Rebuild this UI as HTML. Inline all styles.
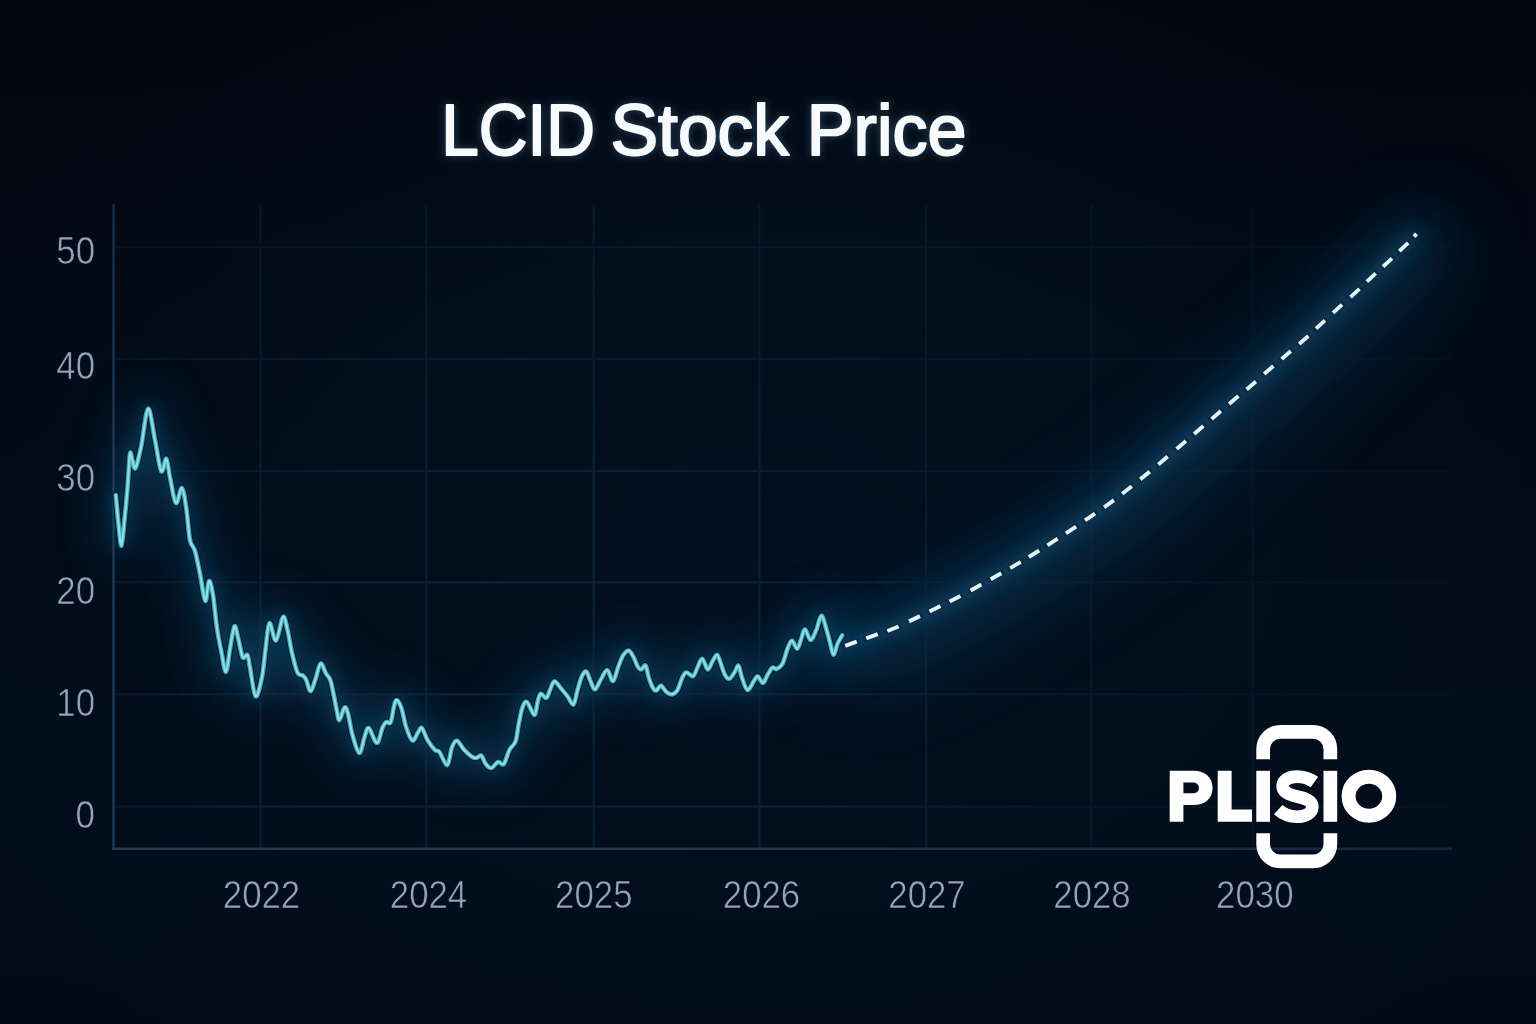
<!DOCTYPE html>
<html><head><meta charset="utf-8"><title>LCID Stock Price</title>
<style>
html,body{margin:0;padding:0;background:#020813;}
body{width:1536px;height:1024px;overflow:hidden;position:relative;font-family:"Liberation Sans",sans-serif;}
#bg{position:absolute;left:0;top:0;width:1536px;height:1024px;
background:
radial-gradient(ellipse 920px 640px at 760px 560px, #03101f 0%, #030e1c 45%, rgba(2,10,22,0) 100%),
linear-gradient(180deg,#02060f 0%,#020914 30%,#020c1b 75%,#020b19 100%);}
svg{position:absolute;left:0;top:0;}
.lab text{font-family:"Liberation Sans",sans-serif;font-size:38.5px;fill:#90a6bb;stroke:#020b19;stroke-width:0.6px;}
.title{font-family:"Liberation Sans",sans-serif;font-size:71.5px;fill:#f7fbfd;stroke:#f7fbfd;stroke-width:2px;stroke-linejoin:round;}
</style></head>
<body>
<div id="bg"></div>
<svg width="1536" height="1024" viewBox="0 0 1536 1024">
<defs>
<filter id="b30" x="-20%" y="-20%" width="140%" height="140%"><feGaussianBlur stdDeviation="22"/></filter>
<filter id="b12" x="-20%" y="-20%" width="140%" height="140%"><feGaussianBlur stdDeviation="9"/></filter>
<filter id="b40" x="-30%" y="-30%" width="160%" height="160%"><feGaussianBlur stdDeviation="38"/></filter>
<filter id="b4" x="-20%" y="-20%" width="140%" height="140%"><feGaussianBlur stdDeviation="4.5"/></filter>
<filter id="b2" x="-20%" y="-20%" width="140%" height="140%"><feGaussianBlur stdDeviation="2"/></filter>
<filter id="tg" x="-20%" y="-50%" width="140%" height="200%"><feGaussianBlur stdDeviation="5"/></filter>
<radialGradient id="gm" gradientUnits="userSpaceOnUse" cx="540" cy="740" r="940">
<stop offset="0" stop-color="#fff" stop-opacity="1"/><stop offset="0.3" stop-color="#fff" stop-opacity="0.95"/>
<stop offset="0.55" stop-color="#fff" stop-opacity="0.6"/><stop offset="0.8" stop-color="#fff" stop-opacity="0.42"/><stop offset="1" stop-color="#fff" stop-opacity="0.22"/></radialGradient>
<mask id="gmask" maskUnits="userSpaceOnUse" x="0" y="0" width="1536" height="1024"><rect x="0" y="0" width="1536" height="1024" fill="url(#gm)"/></mask>
<linearGradient id="xg" gradientUnits="userSpaceOnUse" x1="113" y1="0" x2="1452" y2="0"><stop offset="0" stop-color="#213c57"/><stop offset="0.55" stop-color="#1c3650"/><stop offset="1" stop-color="#13263a"/></linearGradient>
<linearGradient id="yg" gradientUnits="userSpaceOnUse" x1="0" y1="204" x2="0" y2="850"><stop offset="0" stop-color="#182f47"/><stop offset="0.4" stop-color="#213c57"/><stop offset="1" stop-color="#213c57"/></linearGradient>
</defs>
<!-- wide ambient glow -->
<g fill="none" stroke-linecap="round" stroke-linejoin="round">
<path d="M115.80 495.00 C116.27 500.00 117.65 516.57 118.60 525.00 C119.55 533.43 120.52 546.43 121.50 545.60 C122.48 544.77 123.50 529.60 124.50 520.00 C125.50 510.40 126.58 499.04 127.50 488.00 C128.42 476.96 129.15 458.25 130.00 453.75 C130.85 449.25 131.67 458.62 132.60 461.00 C133.53 463.38 134.16 470.50 135.60 468.00 C137.04 465.50 139.17 455.88 141.25 446.00 C143.33 436.12 145.81 409.75 148.10 408.75 C150.39 407.75 152.81 429.58 155.00 440.00 C157.19 450.42 159.38 468.12 161.25 471.25 C163.12 474.38 164.79 457.71 166.25 458.75 C167.71 459.79 168.39 470.12 170.00 477.50 C171.61 484.88 173.92 501.25 175.90 503.00 C177.88 504.75 180.18 487.17 181.90 488.00 C183.62 488.83 184.90 499.33 186.25 508.00 C187.60 516.67 188.54 532.83 190.00 540.00 C191.46 547.17 193.33 545.38 195.00 551.00 C196.67 556.62 198.28 565.42 200.00 573.75 C201.72 582.08 203.80 599.79 205.30 601.00 C206.80 602.21 207.72 582.00 209.00 581.00 C210.28 580.00 211.68 587.25 213.00 595.00 C214.32 602.75 215.53 618.12 216.90 627.50 C218.28 636.88 219.73 643.85 221.25 651.25 C222.77 658.65 224.54 672.32 226.00 671.90 C227.46 671.48 228.60 656.36 230.00 648.75 C231.40 641.14 233.07 628.12 234.40 626.25 C235.73 624.38 236.75 632.71 238.00 637.50 C239.25 642.29 240.94 651.58 241.90 655.00 C242.86 658.42 242.82 658.00 243.75 658.00 C244.68 658.00 246.46 653.42 247.50 655.00 C248.54 656.58 248.65 660.62 250.00 667.50 C251.35 674.38 253.62 694.58 255.60 696.25 C257.58 697.92 260.23 685.42 261.90 677.50 C263.57 669.58 264.35 657.83 265.60 648.75 C266.85 639.67 267.67 624.36 269.40 623.00 C271.13 621.64 273.73 641.60 276.00 640.60 C278.27 639.60 281.08 618.77 283.00 617.00 C284.92 615.23 286.02 624.08 287.50 630.00 C288.98 635.92 290.23 645.42 291.90 652.50 C293.57 659.58 295.65 668.65 297.50 672.50 C299.35 676.35 301.54 674.35 303.00 675.60 C304.46 676.85 304.98 677.39 306.25 680.00 C307.52 682.61 309.04 691.46 310.60 691.25 C312.16 691.04 313.93 683.38 315.60 678.75 C317.27 674.12 318.87 664.38 320.60 663.50 C322.33 662.62 324.38 670.75 326.00 673.50 C327.62 676.25 329.01 676.42 330.30 680.00 C331.59 683.58 332.65 689.83 333.75 695.00 C334.85 700.17 335.96 706.83 336.90 711.00 C337.84 715.17 338.12 720.58 339.40 720.00 C340.68 719.42 343.17 708.54 344.60 707.50 C346.03 706.46 346.68 709.17 348.00 713.75 C349.32 718.33 350.60 728.46 352.50 735.00 C354.40 741.54 357.42 752.58 359.40 753.00 C361.38 753.42 362.84 741.67 364.40 737.50 C365.96 733.33 366.67 727.08 368.75 728.00 C370.83 728.92 374.61 743.08 376.90 743.00 C379.19 742.92 380.94 731.02 382.50 727.50 C384.06 723.98 384.90 722.73 386.25 721.90 C387.60 721.07 389.35 724.90 390.60 722.50 C391.85 720.10 392.77 711.25 393.75 707.50 C394.73 703.75 395.25 700.00 396.50 700.00 C397.75 700.00 399.62 702.92 401.25 707.50 C402.88 712.08 404.38 721.98 406.25 727.50 C408.12 733.02 410.54 739.77 412.50 740.60 C414.46 741.43 416.43 734.60 418.00 732.50 C419.57 730.40 420.32 726.75 421.90 728.00 C423.48 729.25 425.32 736.33 427.50 740.00 C429.68 743.67 433.02 748.02 435.00 750.00 C436.98 751.98 437.36 749.40 439.40 751.90 C441.44 754.40 445.17 765.73 447.25 765.00 C449.33 764.27 450.29 751.57 451.90 747.50 C453.51 743.43 454.92 740.28 456.90 740.60 C458.88 740.92 461.36 746.79 463.75 749.40 C466.14 752.01 469.17 754.82 471.25 756.25 C473.33 757.68 474.58 758.11 476.25 758.00 C477.92 757.89 479.69 754.64 481.25 755.60 C482.81 756.56 483.93 761.68 485.60 763.75 C487.27 765.82 489.18 768.31 491.25 768.00 C493.32 767.69 495.92 762.57 498.00 761.90 C500.08 761.23 501.85 765.98 503.75 764.00 C505.65 762.02 507.42 753.79 509.40 750.00 C511.38 746.21 514.04 745.62 515.60 741.25 C517.16 736.88 517.60 729.38 518.75 723.75 C519.90 718.12 521.14 711.14 522.50 707.50 C523.86 703.86 524.92 700.65 526.90 701.90 C528.88 703.15 532.63 714.90 534.40 715.00 C536.17 715.10 536.47 706.04 537.50 702.50 C538.53 698.96 539.14 694.50 540.60 693.75 C542.06 693.00 544.68 698.62 546.25 698.00 C547.82 697.38 548.64 692.79 550.00 690.00 C551.36 687.21 552.52 681.46 554.40 681.25 C556.27 681.04 559.07 686.25 561.25 688.75 C563.43 691.25 565.46 693.64 567.50 696.25 C569.54 698.86 571.83 705.44 573.50 704.40 C575.17 703.36 576.10 694.69 577.50 690.00 C578.90 685.31 580.44 679.33 581.90 676.25 C583.36 673.17 584.80 670.67 586.25 671.50 C587.70 672.33 589.14 678.27 590.60 681.25 C592.06 684.23 593.23 689.82 595.00 689.40 C596.77 688.98 599.21 681.98 601.25 678.75 C603.29 675.52 605.29 669.58 607.25 670.00 C609.21 670.42 611.21 681.67 613.00 681.25 C614.79 680.83 616.33 671.77 618.00 667.50 C619.67 663.23 621.21 658.42 623.00 655.60 C624.79 652.78 626.96 650.28 628.75 650.60 C630.54 650.92 632.29 654.89 633.75 657.50 C635.21 660.11 636.25 664.27 637.50 666.25 C638.75 668.23 639.90 669.51 641.25 669.40 C642.60 669.29 644.35 664.25 645.60 665.60 C646.85 666.95 647.52 673.77 648.75 677.50 C649.98 681.23 651.75 685.82 653.00 688.00 C654.25 690.18 654.92 691.00 656.25 690.60 C657.58 690.20 659.33 685.38 661.00 685.60 C662.67 685.82 664.43 690.43 666.25 691.90 C668.07 693.37 670.02 694.72 671.90 694.40 C673.77 694.08 675.83 692.65 677.50 690.00 C679.17 687.35 680.44 681.45 681.90 678.50 C683.36 675.55 684.40 672.67 686.25 672.30 C688.10 671.92 691.12 677.05 693.00 676.25 C694.88 675.45 695.96 670.42 697.50 667.50 C699.04 664.58 700.54 658.43 702.25 658.75 C703.96 659.07 706.04 668.98 707.75 669.40 C709.46 669.82 710.92 663.65 712.50 661.25 C714.08 658.85 715.79 654.38 717.25 655.00 C718.71 655.62 719.96 661.67 721.25 665.00 C722.54 668.33 723.64 672.71 725.00 675.00 C726.36 677.29 727.83 679.17 729.40 678.75 C730.97 678.33 732.88 674.69 734.40 672.50 C735.92 670.31 737.25 664.77 738.50 665.60 C739.75 666.43 740.40 673.43 741.90 677.50 C743.40 681.57 745.52 689.38 747.50 690.00 C749.48 690.62 752.04 683.54 753.75 681.25 C755.46 678.96 756.21 675.96 757.75 676.25 C759.29 676.54 761.38 683.21 763.00 683.00 C764.62 682.79 765.92 677.58 767.50 675.00 C769.08 672.42 771.00 668.50 772.50 667.50 C774.00 666.50 774.83 669.62 776.50 669.00 C778.17 668.38 780.67 667.12 782.50 663.75 C784.33 660.38 785.93 652.61 787.50 648.75 C789.07 644.89 790.27 640.60 791.90 640.60 C793.52 640.60 795.69 649.06 797.25 648.75 C798.81 648.44 799.96 641.98 801.25 638.75 C802.54 635.52 803.44 629.19 805.00 629.40 C806.56 629.61 808.73 639.90 810.60 640.00 C812.48 640.10 814.43 634.07 816.25 630.00 C818.07 625.93 819.83 615.81 821.50 615.60 C823.17 615.39 824.83 624.27 826.25 628.75 C827.67 633.23 828.79 638.12 830.00 642.50 C831.21 646.88 832.25 654.79 833.50 655.00 C834.75 655.21 836.04 647.04 837.50 643.75 C838.96 640.46 841.46 636.67 842.25 635.25" stroke="#0b4a70" stroke-width="30" opacity="0.5" filter="url(#b30)"/>
<path d="M845.00 645.50 C846.00 645.21 846.50 645.29 851.00 643.75 C855.50 642.21 865.00 638.75 872.00 636.25 C879.00 633.75 885.92 631.67 893.00 628.75 C900.08 625.83 907.50 622.08 914.50 618.75 C921.50 615.42 928.25 612.08 935.00 608.75 C941.75 605.42 948.17 602.29 955.00 598.75 C961.83 595.21 969.17 591.25 976.00 587.50 C982.83 583.75 989.42 580.00 996.00 576.25 C1002.58 572.50 1009.17 568.75 1015.50 565.00 C1021.83 561.25 1027.83 557.58 1034.00 553.75 C1040.17 549.92 1046.33 545.96 1052.50 542.00 C1058.67 538.04 1064.75 534.17 1071.00 530.00 C1077.25 525.83 1083.67 521.38 1090.00 517.00 C1096.33 512.62 1102.83 508.25 1109.00 503.75 C1115.17 499.25 1121.00 494.71 1127.00 490.00 C1133.00 485.29 1139.00 480.42 1145.00 475.50 C1151.00 470.58 1156.96 465.58 1163.00 460.50 C1169.04 455.42 1175.29 450.08 1181.25 445.00 C1187.21 439.92 1192.92 435.00 1198.75 430.00 C1204.58 425.00 1210.42 420.00 1216.25 415.00 C1222.08 410.00 1227.92 404.92 1233.75 400.00 C1239.58 395.08 1245.42 390.50 1251.25 385.50 C1257.08 380.50 1262.92 375.08 1268.75 370.00 C1274.58 364.92 1280.42 360.00 1286.25 355.00 C1292.08 350.00 1298.04 345.08 1303.75 340.00 C1309.46 334.92 1314.88 329.71 1320.50 324.50 C1326.12 319.29 1331.75 314.00 1337.50 308.75 C1343.25 303.50 1349.38 298.21 1355.00 293.00 C1360.62 287.79 1365.83 282.58 1371.25 277.50 C1376.67 272.42 1382.08 267.58 1387.50 262.50 C1392.92 257.42 1399.08 251.58 1403.75 247.00 C1408.42 242.42 1413.54 237.00 1415.50 235.00" stroke="#0a4064" stroke-width="70" opacity="0.42" filter="url(#b40)" transform="translate(10 12)"/>
<path d="M845.00 645.50 C846.00 645.21 846.50 645.29 851.00 643.75 C855.50 642.21 865.00 638.75 872.00 636.25 C879.00 633.75 885.92 631.67 893.00 628.75 C900.08 625.83 907.50 622.08 914.50 618.75 C921.50 615.42 928.25 612.08 935.00 608.75 C941.75 605.42 948.17 602.29 955.00 598.75 C961.83 595.21 969.17 591.25 976.00 587.50 C982.83 583.75 989.42 580.00 996.00 576.25 C1002.58 572.50 1009.17 568.75 1015.50 565.00 C1021.83 561.25 1027.83 557.58 1034.00 553.75 C1040.17 549.92 1046.33 545.96 1052.50 542.00 C1058.67 538.04 1064.75 534.17 1071.00 530.00 C1077.25 525.83 1083.67 521.38 1090.00 517.00 C1096.33 512.62 1102.83 508.25 1109.00 503.75 C1115.17 499.25 1121.00 494.71 1127.00 490.00 C1133.00 485.29 1139.00 480.42 1145.00 475.50 C1151.00 470.58 1156.96 465.58 1163.00 460.50 C1169.04 455.42 1175.29 450.08 1181.25 445.00 C1187.21 439.92 1192.92 435.00 1198.75 430.00 C1204.58 425.00 1210.42 420.00 1216.25 415.00 C1222.08 410.00 1227.92 404.92 1233.75 400.00 C1239.58 395.08 1245.42 390.50 1251.25 385.50 C1257.08 380.50 1262.92 375.08 1268.75 370.00 C1274.58 364.92 1280.42 360.00 1286.25 355.00 C1292.08 350.00 1298.04 345.08 1303.75 340.00 C1309.46 334.92 1314.88 329.71 1320.50 324.50 C1326.12 319.29 1331.75 314.00 1337.50 308.75 C1343.25 303.50 1349.38 298.21 1355.00 293.00 C1360.62 287.79 1365.83 282.58 1371.25 277.50 C1376.67 272.42 1382.08 267.58 1387.50 262.50 C1392.92 257.42 1399.08 251.58 1403.75 247.00 C1408.42 242.42 1413.54 237.00 1415.50 235.00" stroke="#0b4a70" stroke-width="30" opacity="0.42" filter="url(#b30)"/>
</g>
<!-- grid -->
<g mask="url(#gmask)"><g stroke="#102c45" stroke-width="2.2" opacity="0.62"><line x1="260.4" y1="205" x2="260.4" y2="849"/><line x1="426.2" y1="205" x2="426.2" y2="849"/><line x1="593.6" y1="205" x2="593.6" y2="849"/><line x1="759.4" y1="205" x2="759.4" y2="849"/><line x1="926.2" y1="205" x2="926.2" y2="849"/><line x1="1091.5" y1="205" x2="1091.5" y2="849"/><line x1="1252.5" y1="205" x2="1252.5" y2="849"/><line x1="113.5" y1="247.2" x2="1452" y2="247.2"/><line x1="113.5" y1="358.8" x2="1452" y2="358.8"/><line x1="113.5" y1="471.0" x2="1452" y2="471.0"/><line x1="113.5" y1="582.4" x2="1452" y2="582.4"/><line x1="113.5" y1="694.4" x2="1452" y2="694.4"/><line x1="113.5" y1="806.6" x2="1452" y2="806.6"/></g></g>
<line x1="113.5" y1="204" x2="113.51" y2="850" stroke="url(#yg)" stroke-width="2.2"/>
<line x1="112.4" y1="848.8" x2="1452" y2="848.81" stroke="url(#xg)" stroke-width="2.4"/>
<!-- labels -->
<g class="lab" opacity="0.999"><text transform="translate(95.0 264.4) scale(0.905 1)" text-anchor="end">50</text><text transform="translate(95.0 378.9) scale(0.905 1)" text-anchor="end">40</text><text transform="translate(95.0 491.4) scale(0.905 1)" text-anchor="end">30</text><text transform="translate(95.0 603.7) scale(0.905 1)" text-anchor="end">20</text><text transform="translate(95.0 715.7) scale(0.905 1)" text-anchor="end">10</text><text transform="translate(95.0 828.2) scale(0.905 1)" text-anchor="end">0</text><text transform="translate(261.5 907.7) scale(0.905 1)" text-anchor="middle">2022</text><text transform="translate(428.5 907.7) scale(0.905 1)" text-anchor="middle">2024</text><text transform="translate(593.8 907.7) scale(0.905 1)" text-anchor="middle">2025</text><text transform="translate(761.5 907.7) scale(0.905 1)" text-anchor="middle">2026</text><text transform="translate(927.0 907.7) scale(0.905 1)" text-anchor="middle">2027</text><text transform="translate(1092.0 907.7) scale(0.905 1)" text-anchor="middle">2028</text><text transform="translate(1254.8 907.7) scale(0.905 1)" text-anchor="middle">2030</text></g>
<!-- title -->
<g class="title" filter="url(#tg)" opacity="0.28" style="fill:#9fd0ff;stroke:#9fd0ff"><text transform="translate(441.3 155.2) scale(0.944 1)">LCID</text><text transform="translate(610.5 155.2) scale(0.998 1)">Stock</text><text transform="translate(806.8 155.2) scale(0.981 1)">Price</text></g>
<g class="title" opacity="0.999"><text transform="translate(441.3 155.2) scale(0.944 1)">LCID</text><text transform="translate(610.5 155.2) scale(0.998 1)">Stock</text><text transform="translate(806.8 155.2) scale(0.981 1)">Price</text></g>
<!-- line glows -->
<g fill="none" stroke-linecap="round" stroke-linejoin="round">
<path d="M115.80 495.00 C116.27 500.00 117.65 516.57 118.60 525.00 C119.55 533.43 120.52 546.43 121.50 545.60 C122.48 544.77 123.50 529.60 124.50 520.00 C125.50 510.40 126.58 499.04 127.50 488.00 C128.42 476.96 129.15 458.25 130.00 453.75 C130.85 449.25 131.67 458.62 132.60 461.00 C133.53 463.38 134.16 470.50 135.60 468.00 C137.04 465.50 139.17 455.88 141.25 446.00 C143.33 436.12 145.81 409.75 148.10 408.75 C150.39 407.75 152.81 429.58 155.00 440.00 C157.19 450.42 159.38 468.12 161.25 471.25 C163.12 474.38 164.79 457.71 166.25 458.75 C167.71 459.79 168.39 470.12 170.00 477.50 C171.61 484.88 173.92 501.25 175.90 503.00 C177.88 504.75 180.18 487.17 181.90 488.00 C183.62 488.83 184.90 499.33 186.25 508.00 C187.60 516.67 188.54 532.83 190.00 540.00 C191.46 547.17 193.33 545.38 195.00 551.00 C196.67 556.62 198.28 565.42 200.00 573.75 C201.72 582.08 203.80 599.79 205.30 601.00 C206.80 602.21 207.72 582.00 209.00 581.00 C210.28 580.00 211.68 587.25 213.00 595.00 C214.32 602.75 215.53 618.12 216.90 627.50 C218.28 636.88 219.73 643.85 221.25 651.25 C222.77 658.65 224.54 672.32 226.00 671.90 C227.46 671.48 228.60 656.36 230.00 648.75 C231.40 641.14 233.07 628.12 234.40 626.25 C235.73 624.38 236.75 632.71 238.00 637.50 C239.25 642.29 240.94 651.58 241.90 655.00 C242.86 658.42 242.82 658.00 243.75 658.00 C244.68 658.00 246.46 653.42 247.50 655.00 C248.54 656.58 248.65 660.62 250.00 667.50 C251.35 674.38 253.62 694.58 255.60 696.25 C257.58 697.92 260.23 685.42 261.90 677.50 C263.57 669.58 264.35 657.83 265.60 648.75 C266.85 639.67 267.67 624.36 269.40 623.00 C271.13 621.64 273.73 641.60 276.00 640.60 C278.27 639.60 281.08 618.77 283.00 617.00 C284.92 615.23 286.02 624.08 287.50 630.00 C288.98 635.92 290.23 645.42 291.90 652.50 C293.57 659.58 295.65 668.65 297.50 672.50 C299.35 676.35 301.54 674.35 303.00 675.60 C304.46 676.85 304.98 677.39 306.25 680.00 C307.52 682.61 309.04 691.46 310.60 691.25 C312.16 691.04 313.93 683.38 315.60 678.75 C317.27 674.12 318.87 664.38 320.60 663.50 C322.33 662.62 324.38 670.75 326.00 673.50 C327.62 676.25 329.01 676.42 330.30 680.00 C331.59 683.58 332.65 689.83 333.75 695.00 C334.85 700.17 335.96 706.83 336.90 711.00 C337.84 715.17 338.12 720.58 339.40 720.00 C340.68 719.42 343.17 708.54 344.60 707.50 C346.03 706.46 346.68 709.17 348.00 713.75 C349.32 718.33 350.60 728.46 352.50 735.00 C354.40 741.54 357.42 752.58 359.40 753.00 C361.38 753.42 362.84 741.67 364.40 737.50 C365.96 733.33 366.67 727.08 368.75 728.00 C370.83 728.92 374.61 743.08 376.90 743.00 C379.19 742.92 380.94 731.02 382.50 727.50 C384.06 723.98 384.90 722.73 386.25 721.90 C387.60 721.07 389.35 724.90 390.60 722.50 C391.85 720.10 392.77 711.25 393.75 707.50 C394.73 703.75 395.25 700.00 396.50 700.00 C397.75 700.00 399.62 702.92 401.25 707.50 C402.88 712.08 404.38 721.98 406.25 727.50 C408.12 733.02 410.54 739.77 412.50 740.60 C414.46 741.43 416.43 734.60 418.00 732.50 C419.57 730.40 420.32 726.75 421.90 728.00 C423.48 729.25 425.32 736.33 427.50 740.00 C429.68 743.67 433.02 748.02 435.00 750.00 C436.98 751.98 437.36 749.40 439.40 751.90 C441.44 754.40 445.17 765.73 447.25 765.00 C449.33 764.27 450.29 751.57 451.90 747.50 C453.51 743.43 454.92 740.28 456.90 740.60 C458.88 740.92 461.36 746.79 463.75 749.40 C466.14 752.01 469.17 754.82 471.25 756.25 C473.33 757.68 474.58 758.11 476.25 758.00 C477.92 757.89 479.69 754.64 481.25 755.60 C482.81 756.56 483.93 761.68 485.60 763.75 C487.27 765.82 489.18 768.31 491.25 768.00 C493.32 767.69 495.92 762.57 498.00 761.90 C500.08 761.23 501.85 765.98 503.75 764.00 C505.65 762.02 507.42 753.79 509.40 750.00 C511.38 746.21 514.04 745.62 515.60 741.25 C517.16 736.88 517.60 729.38 518.75 723.75 C519.90 718.12 521.14 711.14 522.50 707.50 C523.86 703.86 524.92 700.65 526.90 701.90 C528.88 703.15 532.63 714.90 534.40 715.00 C536.17 715.10 536.47 706.04 537.50 702.50 C538.53 698.96 539.14 694.50 540.60 693.75 C542.06 693.00 544.68 698.62 546.25 698.00 C547.82 697.38 548.64 692.79 550.00 690.00 C551.36 687.21 552.52 681.46 554.40 681.25 C556.27 681.04 559.07 686.25 561.25 688.75 C563.43 691.25 565.46 693.64 567.50 696.25 C569.54 698.86 571.83 705.44 573.50 704.40 C575.17 703.36 576.10 694.69 577.50 690.00 C578.90 685.31 580.44 679.33 581.90 676.25 C583.36 673.17 584.80 670.67 586.25 671.50 C587.70 672.33 589.14 678.27 590.60 681.25 C592.06 684.23 593.23 689.82 595.00 689.40 C596.77 688.98 599.21 681.98 601.25 678.75 C603.29 675.52 605.29 669.58 607.25 670.00 C609.21 670.42 611.21 681.67 613.00 681.25 C614.79 680.83 616.33 671.77 618.00 667.50 C619.67 663.23 621.21 658.42 623.00 655.60 C624.79 652.78 626.96 650.28 628.75 650.60 C630.54 650.92 632.29 654.89 633.75 657.50 C635.21 660.11 636.25 664.27 637.50 666.25 C638.75 668.23 639.90 669.51 641.25 669.40 C642.60 669.29 644.35 664.25 645.60 665.60 C646.85 666.95 647.52 673.77 648.75 677.50 C649.98 681.23 651.75 685.82 653.00 688.00 C654.25 690.18 654.92 691.00 656.25 690.60 C657.58 690.20 659.33 685.38 661.00 685.60 C662.67 685.82 664.43 690.43 666.25 691.90 C668.07 693.37 670.02 694.72 671.90 694.40 C673.77 694.08 675.83 692.65 677.50 690.00 C679.17 687.35 680.44 681.45 681.90 678.50 C683.36 675.55 684.40 672.67 686.25 672.30 C688.10 671.92 691.12 677.05 693.00 676.25 C694.88 675.45 695.96 670.42 697.50 667.50 C699.04 664.58 700.54 658.43 702.25 658.75 C703.96 659.07 706.04 668.98 707.75 669.40 C709.46 669.82 710.92 663.65 712.50 661.25 C714.08 658.85 715.79 654.38 717.25 655.00 C718.71 655.62 719.96 661.67 721.25 665.00 C722.54 668.33 723.64 672.71 725.00 675.00 C726.36 677.29 727.83 679.17 729.40 678.75 C730.97 678.33 732.88 674.69 734.40 672.50 C735.92 670.31 737.25 664.77 738.50 665.60 C739.75 666.43 740.40 673.43 741.90 677.50 C743.40 681.57 745.52 689.38 747.50 690.00 C749.48 690.62 752.04 683.54 753.75 681.25 C755.46 678.96 756.21 675.96 757.75 676.25 C759.29 676.54 761.38 683.21 763.00 683.00 C764.62 682.79 765.92 677.58 767.50 675.00 C769.08 672.42 771.00 668.50 772.50 667.50 C774.00 666.50 774.83 669.62 776.50 669.00 C778.17 668.38 780.67 667.12 782.50 663.75 C784.33 660.38 785.93 652.61 787.50 648.75 C789.07 644.89 790.27 640.60 791.90 640.60 C793.52 640.60 795.69 649.06 797.25 648.75 C798.81 648.44 799.96 641.98 801.25 638.75 C802.54 635.52 803.44 629.19 805.00 629.40 C806.56 629.61 808.73 639.90 810.60 640.00 C812.48 640.10 814.43 634.07 816.25 630.00 C818.07 625.93 819.83 615.81 821.50 615.60 C823.17 615.39 824.83 624.27 826.25 628.75 C827.67 633.23 828.79 638.12 830.00 642.50 C831.21 646.88 832.25 654.79 833.50 655.00 C834.75 655.21 836.04 647.04 837.50 643.75 C838.96 640.46 841.46 636.67 842.25 635.25" stroke="#0f6088" stroke-width="11" opacity="0.24" filter="url(#b12)"/>
<path d="M845.00 645.50 C846.00 645.21 846.50 645.29 851.00 643.75 C855.50 642.21 865.00 638.75 872.00 636.25 C879.00 633.75 885.92 631.67 893.00 628.75 C900.08 625.83 907.50 622.08 914.50 618.75 C921.50 615.42 928.25 612.08 935.00 608.75 C941.75 605.42 948.17 602.29 955.00 598.75 C961.83 595.21 969.17 591.25 976.00 587.50 C982.83 583.75 989.42 580.00 996.00 576.25 C1002.58 572.50 1009.17 568.75 1015.50 565.00 C1021.83 561.25 1027.83 557.58 1034.00 553.75 C1040.17 549.92 1046.33 545.96 1052.50 542.00 C1058.67 538.04 1064.75 534.17 1071.00 530.00 C1077.25 525.83 1083.67 521.38 1090.00 517.00 C1096.33 512.62 1102.83 508.25 1109.00 503.75 C1115.17 499.25 1121.00 494.71 1127.00 490.00 C1133.00 485.29 1139.00 480.42 1145.00 475.50 C1151.00 470.58 1156.96 465.58 1163.00 460.50 C1169.04 455.42 1175.29 450.08 1181.25 445.00 C1187.21 439.92 1192.92 435.00 1198.75 430.00 C1204.58 425.00 1210.42 420.00 1216.25 415.00 C1222.08 410.00 1227.92 404.92 1233.75 400.00 C1239.58 395.08 1245.42 390.50 1251.25 385.50 C1257.08 380.50 1262.92 375.08 1268.75 370.00 C1274.58 364.92 1280.42 360.00 1286.25 355.00 C1292.08 350.00 1298.04 345.08 1303.75 340.00 C1309.46 334.92 1314.88 329.71 1320.50 324.50 C1326.12 319.29 1331.75 314.00 1337.50 308.75 C1343.25 303.50 1349.38 298.21 1355.00 293.00 C1360.62 287.79 1365.83 282.58 1371.25 277.50 C1376.67 272.42 1382.08 267.58 1387.50 262.50 C1392.92 257.42 1399.08 251.58 1403.75 247.00 C1408.42 242.42 1413.54 237.00 1415.50 235.00" stroke="#0f6088" stroke-width="14" opacity="0.32" filter="url(#b12)"/>
<path d="M115.80 495.00 C116.27 500.00 117.65 516.57 118.60 525.00 C119.55 533.43 120.52 546.43 121.50 545.60 C122.48 544.77 123.50 529.60 124.50 520.00 C125.50 510.40 126.58 499.04 127.50 488.00 C128.42 476.96 129.15 458.25 130.00 453.75 C130.85 449.25 131.67 458.62 132.60 461.00 C133.53 463.38 134.16 470.50 135.60 468.00 C137.04 465.50 139.17 455.88 141.25 446.00 C143.33 436.12 145.81 409.75 148.10 408.75 C150.39 407.75 152.81 429.58 155.00 440.00 C157.19 450.42 159.38 468.12 161.25 471.25 C163.12 474.38 164.79 457.71 166.25 458.75 C167.71 459.79 168.39 470.12 170.00 477.50 C171.61 484.88 173.92 501.25 175.90 503.00 C177.88 504.75 180.18 487.17 181.90 488.00 C183.62 488.83 184.90 499.33 186.25 508.00 C187.60 516.67 188.54 532.83 190.00 540.00 C191.46 547.17 193.33 545.38 195.00 551.00 C196.67 556.62 198.28 565.42 200.00 573.75 C201.72 582.08 203.80 599.79 205.30 601.00 C206.80 602.21 207.72 582.00 209.00 581.00 C210.28 580.00 211.68 587.25 213.00 595.00 C214.32 602.75 215.53 618.12 216.90 627.50 C218.28 636.88 219.73 643.85 221.25 651.25 C222.77 658.65 224.54 672.32 226.00 671.90 C227.46 671.48 228.60 656.36 230.00 648.75 C231.40 641.14 233.07 628.12 234.40 626.25 C235.73 624.38 236.75 632.71 238.00 637.50 C239.25 642.29 240.94 651.58 241.90 655.00 C242.86 658.42 242.82 658.00 243.75 658.00 C244.68 658.00 246.46 653.42 247.50 655.00 C248.54 656.58 248.65 660.62 250.00 667.50 C251.35 674.38 253.62 694.58 255.60 696.25 C257.58 697.92 260.23 685.42 261.90 677.50 C263.57 669.58 264.35 657.83 265.60 648.75 C266.85 639.67 267.67 624.36 269.40 623.00 C271.13 621.64 273.73 641.60 276.00 640.60 C278.27 639.60 281.08 618.77 283.00 617.00 C284.92 615.23 286.02 624.08 287.50 630.00 C288.98 635.92 290.23 645.42 291.90 652.50 C293.57 659.58 295.65 668.65 297.50 672.50 C299.35 676.35 301.54 674.35 303.00 675.60 C304.46 676.85 304.98 677.39 306.25 680.00 C307.52 682.61 309.04 691.46 310.60 691.25 C312.16 691.04 313.93 683.38 315.60 678.75 C317.27 674.12 318.87 664.38 320.60 663.50 C322.33 662.62 324.38 670.75 326.00 673.50 C327.62 676.25 329.01 676.42 330.30 680.00 C331.59 683.58 332.65 689.83 333.75 695.00 C334.85 700.17 335.96 706.83 336.90 711.00 C337.84 715.17 338.12 720.58 339.40 720.00 C340.68 719.42 343.17 708.54 344.60 707.50 C346.03 706.46 346.68 709.17 348.00 713.75 C349.32 718.33 350.60 728.46 352.50 735.00 C354.40 741.54 357.42 752.58 359.40 753.00 C361.38 753.42 362.84 741.67 364.40 737.50 C365.96 733.33 366.67 727.08 368.75 728.00 C370.83 728.92 374.61 743.08 376.90 743.00 C379.19 742.92 380.94 731.02 382.50 727.50 C384.06 723.98 384.90 722.73 386.25 721.90 C387.60 721.07 389.35 724.90 390.60 722.50 C391.85 720.10 392.77 711.25 393.75 707.50 C394.73 703.75 395.25 700.00 396.50 700.00 C397.75 700.00 399.62 702.92 401.25 707.50 C402.88 712.08 404.38 721.98 406.25 727.50 C408.12 733.02 410.54 739.77 412.50 740.60 C414.46 741.43 416.43 734.60 418.00 732.50 C419.57 730.40 420.32 726.75 421.90 728.00 C423.48 729.25 425.32 736.33 427.50 740.00 C429.68 743.67 433.02 748.02 435.00 750.00 C436.98 751.98 437.36 749.40 439.40 751.90 C441.44 754.40 445.17 765.73 447.25 765.00 C449.33 764.27 450.29 751.57 451.90 747.50 C453.51 743.43 454.92 740.28 456.90 740.60 C458.88 740.92 461.36 746.79 463.75 749.40 C466.14 752.01 469.17 754.82 471.25 756.25 C473.33 757.68 474.58 758.11 476.25 758.00 C477.92 757.89 479.69 754.64 481.25 755.60 C482.81 756.56 483.93 761.68 485.60 763.75 C487.27 765.82 489.18 768.31 491.25 768.00 C493.32 767.69 495.92 762.57 498.00 761.90 C500.08 761.23 501.85 765.98 503.75 764.00 C505.65 762.02 507.42 753.79 509.40 750.00 C511.38 746.21 514.04 745.62 515.60 741.25 C517.16 736.88 517.60 729.38 518.75 723.75 C519.90 718.12 521.14 711.14 522.50 707.50 C523.86 703.86 524.92 700.65 526.90 701.90 C528.88 703.15 532.63 714.90 534.40 715.00 C536.17 715.10 536.47 706.04 537.50 702.50 C538.53 698.96 539.14 694.50 540.60 693.75 C542.06 693.00 544.68 698.62 546.25 698.00 C547.82 697.38 548.64 692.79 550.00 690.00 C551.36 687.21 552.52 681.46 554.40 681.25 C556.27 681.04 559.07 686.25 561.25 688.75 C563.43 691.25 565.46 693.64 567.50 696.25 C569.54 698.86 571.83 705.44 573.50 704.40 C575.17 703.36 576.10 694.69 577.50 690.00 C578.90 685.31 580.44 679.33 581.90 676.25 C583.36 673.17 584.80 670.67 586.25 671.50 C587.70 672.33 589.14 678.27 590.60 681.25 C592.06 684.23 593.23 689.82 595.00 689.40 C596.77 688.98 599.21 681.98 601.25 678.75 C603.29 675.52 605.29 669.58 607.25 670.00 C609.21 670.42 611.21 681.67 613.00 681.25 C614.79 680.83 616.33 671.77 618.00 667.50 C619.67 663.23 621.21 658.42 623.00 655.60 C624.79 652.78 626.96 650.28 628.75 650.60 C630.54 650.92 632.29 654.89 633.75 657.50 C635.21 660.11 636.25 664.27 637.50 666.25 C638.75 668.23 639.90 669.51 641.25 669.40 C642.60 669.29 644.35 664.25 645.60 665.60 C646.85 666.95 647.52 673.77 648.75 677.50 C649.98 681.23 651.75 685.82 653.00 688.00 C654.25 690.18 654.92 691.00 656.25 690.60 C657.58 690.20 659.33 685.38 661.00 685.60 C662.67 685.82 664.43 690.43 666.25 691.90 C668.07 693.37 670.02 694.72 671.90 694.40 C673.77 694.08 675.83 692.65 677.50 690.00 C679.17 687.35 680.44 681.45 681.90 678.50 C683.36 675.55 684.40 672.67 686.25 672.30 C688.10 671.92 691.12 677.05 693.00 676.25 C694.88 675.45 695.96 670.42 697.50 667.50 C699.04 664.58 700.54 658.43 702.25 658.75 C703.96 659.07 706.04 668.98 707.75 669.40 C709.46 669.82 710.92 663.65 712.50 661.25 C714.08 658.85 715.79 654.38 717.25 655.00 C718.71 655.62 719.96 661.67 721.25 665.00 C722.54 668.33 723.64 672.71 725.00 675.00 C726.36 677.29 727.83 679.17 729.40 678.75 C730.97 678.33 732.88 674.69 734.40 672.50 C735.92 670.31 737.25 664.77 738.50 665.60 C739.75 666.43 740.40 673.43 741.90 677.50 C743.40 681.57 745.52 689.38 747.50 690.00 C749.48 690.62 752.04 683.54 753.75 681.25 C755.46 678.96 756.21 675.96 757.75 676.25 C759.29 676.54 761.38 683.21 763.00 683.00 C764.62 682.79 765.92 677.58 767.50 675.00 C769.08 672.42 771.00 668.50 772.50 667.50 C774.00 666.50 774.83 669.62 776.50 669.00 C778.17 668.38 780.67 667.12 782.50 663.75 C784.33 660.38 785.93 652.61 787.50 648.75 C789.07 644.89 790.27 640.60 791.90 640.60 C793.52 640.60 795.69 649.06 797.25 648.75 C798.81 648.44 799.96 641.98 801.25 638.75 C802.54 635.52 803.44 629.19 805.00 629.40 C806.56 629.61 808.73 639.90 810.60 640.00 C812.48 640.10 814.43 634.07 816.25 630.00 C818.07 625.93 819.83 615.81 821.50 615.60 C823.17 615.39 824.83 624.27 826.25 628.75 C827.67 633.23 828.79 638.12 830.00 642.50 C831.21 646.88 832.25 654.79 833.50 655.00 C834.75 655.21 836.04 647.04 837.50 643.75 C838.96 640.46 841.46 636.67 842.25 635.25" stroke="#167a9c" stroke-width="7" opacity="0.14" filter="url(#b4)"/>
<path d="M845.00 645.50 C846.00 645.21 846.50 645.29 851.00 643.75 C855.50 642.21 865.00 638.75 872.00 636.25 C879.00 633.75 885.92 631.67 893.00 628.75 C900.08 625.83 907.50 622.08 914.50 618.75 C921.50 615.42 928.25 612.08 935.00 608.75 C941.75 605.42 948.17 602.29 955.00 598.75 C961.83 595.21 969.17 591.25 976.00 587.50 C982.83 583.75 989.42 580.00 996.00 576.25 C1002.58 572.50 1009.17 568.75 1015.50 565.00 C1021.83 561.25 1027.83 557.58 1034.00 553.75 C1040.17 549.92 1046.33 545.96 1052.50 542.00 C1058.67 538.04 1064.75 534.17 1071.00 530.00 C1077.25 525.83 1083.67 521.38 1090.00 517.00 C1096.33 512.62 1102.83 508.25 1109.00 503.75 C1115.17 499.25 1121.00 494.71 1127.00 490.00 C1133.00 485.29 1139.00 480.42 1145.00 475.50 C1151.00 470.58 1156.96 465.58 1163.00 460.50 C1169.04 455.42 1175.29 450.08 1181.25 445.00 C1187.21 439.92 1192.92 435.00 1198.75 430.00 C1204.58 425.00 1210.42 420.00 1216.25 415.00 C1222.08 410.00 1227.92 404.92 1233.75 400.00 C1239.58 395.08 1245.42 390.50 1251.25 385.50 C1257.08 380.50 1262.92 375.08 1268.75 370.00 C1274.58 364.92 1280.42 360.00 1286.25 355.00 C1292.08 350.00 1298.04 345.08 1303.75 340.00 C1309.46 334.92 1314.88 329.71 1320.50 324.50 C1326.12 319.29 1331.75 314.00 1337.50 308.75 C1343.25 303.50 1349.38 298.21 1355.00 293.00 C1360.62 287.79 1365.83 282.58 1371.25 277.50 C1376.67 272.42 1382.08 267.58 1387.50 262.50 C1392.92 257.42 1399.08 251.58 1403.75 247.00 C1408.42 242.42 1413.54 237.00 1415.50 235.00" stroke="#2a8fbc" stroke-width="5" opacity="0.2" filter="url(#b4)"/>
<path d="M115.80 495.00 C116.27 500.00 117.65 516.57 118.60 525.00 C119.55 533.43 120.52 546.43 121.50 545.60 C122.48 544.77 123.50 529.60 124.50 520.00 C125.50 510.40 126.58 499.04 127.50 488.00 C128.42 476.96 129.15 458.25 130.00 453.75 C130.85 449.25 131.67 458.62 132.60 461.00 C133.53 463.38 134.16 470.50 135.60 468.00 C137.04 465.50 139.17 455.88 141.25 446.00 C143.33 436.12 145.81 409.75 148.10 408.75 C150.39 407.75 152.81 429.58 155.00 440.00 C157.19 450.42 159.38 468.12 161.25 471.25 C163.12 474.38 164.79 457.71 166.25 458.75 C167.71 459.79 168.39 470.12 170.00 477.50 C171.61 484.88 173.92 501.25 175.90 503.00 C177.88 504.75 180.18 487.17 181.90 488.00 C183.62 488.83 184.90 499.33 186.25 508.00 C187.60 516.67 188.54 532.83 190.00 540.00 C191.46 547.17 193.33 545.38 195.00 551.00 C196.67 556.62 198.28 565.42 200.00 573.75 C201.72 582.08 203.80 599.79 205.30 601.00 C206.80 602.21 207.72 582.00 209.00 581.00 C210.28 580.00 211.68 587.25 213.00 595.00 C214.32 602.75 215.53 618.12 216.90 627.50 C218.28 636.88 219.73 643.85 221.25 651.25 C222.77 658.65 224.54 672.32 226.00 671.90 C227.46 671.48 228.60 656.36 230.00 648.75 C231.40 641.14 233.07 628.12 234.40 626.25 C235.73 624.38 236.75 632.71 238.00 637.50 C239.25 642.29 240.94 651.58 241.90 655.00 C242.86 658.42 242.82 658.00 243.75 658.00 C244.68 658.00 246.46 653.42 247.50 655.00 C248.54 656.58 248.65 660.62 250.00 667.50 C251.35 674.38 253.62 694.58 255.60 696.25 C257.58 697.92 260.23 685.42 261.90 677.50 C263.57 669.58 264.35 657.83 265.60 648.75 C266.85 639.67 267.67 624.36 269.40 623.00 C271.13 621.64 273.73 641.60 276.00 640.60 C278.27 639.60 281.08 618.77 283.00 617.00 C284.92 615.23 286.02 624.08 287.50 630.00 C288.98 635.92 290.23 645.42 291.90 652.50 C293.57 659.58 295.65 668.65 297.50 672.50 C299.35 676.35 301.54 674.35 303.00 675.60 C304.46 676.85 304.98 677.39 306.25 680.00 C307.52 682.61 309.04 691.46 310.60 691.25 C312.16 691.04 313.93 683.38 315.60 678.75 C317.27 674.12 318.87 664.38 320.60 663.50 C322.33 662.62 324.38 670.75 326.00 673.50 C327.62 676.25 329.01 676.42 330.30 680.00 C331.59 683.58 332.65 689.83 333.75 695.00 C334.85 700.17 335.96 706.83 336.90 711.00 C337.84 715.17 338.12 720.58 339.40 720.00 C340.68 719.42 343.17 708.54 344.60 707.50 C346.03 706.46 346.68 709.17 348.00 713.75 C349.32 718.33 350.60 728.46 352.50 735.00 C354.40 741.54 357.42 752.58 359.40 753.00 C361.38 753.42 362.84 741.67 364.40 737.50 C365.96 733.33 366.67 727.08 368.75 728.00 C370.83 728.92 374.61 743.08 376.90 743.00 C379.19 742.92 380.94 731.02 382.50 727.50 C384.06 723.98 384.90 722.73 386.25 721.90 C387.60 721.07 389.35 724.90 390.60 722.50 C391.85 720.10 392.77 711.25 393.75 707.50 C394.73 703.75 395.25 700.00 396.50 700.00 C397.75 700.00 399.62 702.92 401.25 707.50 C402.88 712.08 404.38 721.98 406.25 727.50 C408.12 733.02 410.54 739.77 412.50 740.60 C414.46 741.43 416.43 734.60 418.00 732.50 C419.57 730.40 420.32 726.75 421.90 728.00 C423.48 729.25 425.32 736.33 427.50 740.00 C429.68 743.67 433.02 748.02 435.00 750.00 C436.98 751.98 437.36 749.40 439.40 751.90 C441.44 754.40 445.17 765.73 447.25 765.00 C449.33 764.27 450.29 751.57 451.90 747.50 C453.51 743.43 454.92 740.28 456.90 740.60 C458.88 740.92 461.36 746.79 463.75 749.40 C466.14 752.01 469.17 754.82 471.25 756.25 C473.33 757.68 474.58 758.11 476.25 758.00 C477.92 757.89 479.69 754.64 481.25 755.60 C482.81 756.56 483.93 761.68 485.60 763.75 C487.27 765.82 489.18 768.31 491.25 768.00 C493.32 767.69 495.92 762.57 498.00 761.90 C500.08 761.23 501.85 765.98 503.75 764.00 C505.65 762.02 507.42 753.79 509.40 750.00 C511.38 746.21 514.04 745.62 515.60 741.25 C517.16 736.88 517.60 729.38 518.75 723.75 C519.90 718.12 521.14 711.14 522.50 707.50 C523.86 703.86 524.92 700.65 526.90 701.90 C528.88 703.15 532.63 714.90 534.40 715.00 C536.17 715.10 536.47 706.04 537.50 702.50 C538.53 698.96 539.14 694.50 540.60 693.75 C542.06 693.00 544.68 698.62 546.25 698.00 C547.82 697.38 548.64 692.79 550.00 690.00 C551.36 687.21 552.52 681.46 554.40 681.25 C556.27 681.04 559.07 686.25 561.25 688.75 C563.43 691.25 565.46 693.64 567.50 696.25 C569.54 698.86 571.83 705.44 573.50 704.40 C575.17 703.36 576.10 694.69 577.50 690.00 C578.90 685.31 580.44 679.33 581.90 676.25 C583.36 673.17 584.80 670.67 586.25 671.50 C587.70 672.33 589.14 678.27 590.60 681.25 C592.06 684.23 593.23 689.82 595.00 689.40 C596.77 688.98 599.21 681.98 601.25 678.75 C603.29 675.52 605.29 669.58 607.25 670.00 C609.21 670.42 611.21 681.67 613.00 681.25 C614.79 680.83 616.33 671.77 618.00 667.50 C619.67 663.23 621.21 658.42 623.00 655.60 C624.79 652.78 626.96 650.28 628.75 650.60 C630.54 650.92 632.29 654.89 633.75 657.50 C635.21 660.11 636.25 664.27 637.50 666.25 C638.75 668.23 639.90 669.51 641.25 669.40 C642.60 669.29 644.35 664.25 645.60 665.60 C646.85 666.95 647.52 673.77 648.75 677.50 C649.98 681.23 651.75 685.82 653.00 688.00 C654.25 690.18 654.92 691.00 656.25 690.60 C657.58 690.20 659.33 685.38 661.00 685.60 C662.67 685.82 664.43 690.43 666.25 691.90 C668.07 693.37 670.02 694.72 671.90 694.40 C673.77 694.08 675.83 692.65 677.50 690.00 C679.17 687.35 680.44 681.45 681.90 678.50 C683.36 675.55 684.40 672.67 686.25 672.30 C688.10 671.92 691.12 677.05 693.00 676.25 C694.88 675.45 695.96 670.42 697.50 667.50 C699.04 664.58 700.54 658.43 702.25 658.75 C703.96 659.07 706.04 668.98 707.75 669.40 C709.46 669.82 710.92 663.65 712.50 661.25 C714.08 658.85 715.79 654.38 717.25 655.00 C718.71 655.62 719.96 661.67 721.25 665.00 C722.54 668.33 723.64 672.71 725.00 675.00 C726.36 677.29 727.83 679.17 729.40 678.75 C730.97 678.33 732.88 674.69 734.40 672.50 C735.92 670.31 737.25 664.77 738.50 665.60 C739.75 666.43 740.40 673.43 741.90 677.50 C743.40 681.57 745.52 689.38 747.50 690.00 C749.48 690.62 752.04 683.54 753.75 681.25 C755.46 678.96 756.21 675.96 757.75 676.25 C759.29 676.54 761.38 683.21 763.00 683.00 C764.62 682.79 765.92 677.58 767.50 675.00 C769.08 672.42 771.00 668.50 772.50 667.50 C774.00 666.50 774.83 669.62 776.50 669.00 C778.17 668.38 780.67 667.12 782.50 663.75 C784.33 660.38 785.93 652.61 787.50 648.75 C789.07 644.89 790.27 640.60 791.90 640.60 C793.52 640.60 795.69 649.06 797.25 648.75 C798.81 648.44 799.96 641.98 801.25 638.75 C802.54 635.52 803.44 629.19 805.00 629.40 C806.56 629.61 808.73 639.90 810.60 640.00 C812.48 640.10 814.43 634.07 816.25 630.00 C818.07 625.93 819.83 615.81 821.50 615.60 C823.17 615.39 824.83 624.27 826.25 628.75 C827.67 633.23 828.79 638.12 830.00 642.50 C831.21 646.88 832.25 654.79 833.50 655.00 C834.75 655.21 836.04 647.04 837.50 643.75 C838.96 640.46 841.46 636.67 842.25 635.25" stroke="#03101c" stroke-width="6.7" opacity="0.85"/>
<path d="M115.80 495.00 C116.27 500.00 117.65 516.57 118.60 525.00 C119.55 533.43 120.52 546.43 121.50 545.60 C122.48 544.77 123.50 529.60 124.50 520.00 C125.50 510.40 126.58 499.04 127.50 488.00 C128.42 476.96 129.15 458.25 130.00 453.75 C130.85 449.25 131.67 458.62 132.60 461.00 C133.53 463.38 134.16 470.50 135.60 468.00 C137.04 465.50 139.17 455.88 141.25 446.00 C143.33 436.12 145.81 409.75 148.10 408.75 C150.39 407.75 152.81 429.58 155.00 440.00 C157.19 450.42 159.38 468.12 161.25 471.25 C163.12 474.38 164.79 457.71 166.25 458.75 C167.71 459.79 168.39 470.12 170.00 477.50 C171.61 484.88 173.92 501.25 175.90 503.00 C177.88 504.75 180.18 487.17 181.90 488.00 C183.62 488.83 184.90 499.33 186.25 508.00 C187.60 516.67 188.54 532.83 190.00 540.00 C191.46 547.17 193.33 545.38 195.00 551.00 C196.67 556.62 198.28 565.42 200.00 573.75 C201.72 582.08 203.80 599.79 205.30 601.00 C206.80 602.21 207.72 582.00 209.00 581.00 C210.28 580.00 211.68 587.25 213.00 595.00 C214.32 602.75 215.53 618.12 216.90 627.50 C218.28 636.88 219.73 643.85 221.25 651.25 C222.77 658.65 224.54 672.32 226.00 671.90 C227.46 671.48 228.60 656.36 230.00 648.75 C231.40 641.14 233.07 628.12 234.40 626.25 C235.73 624.38 236.75 632.71 238.00 637.50 C239.25 642.29 240.94 651.58 241.90 655.00 C242.86 658.42 242.82 658.00 243.75 658.00 C244.68 658.00 246.46 653.42 247.50 655.00 C248.54 656.58 248.65 660.62 250.00 667.50 C251.35 674.38 253.62 694.58 255.60 696.25 C257.58 697.92 260.23 685.42 261.90 677.50 C263.57 669.58 264.35 657.83 265.60 648.75 C266.85 639.67 267.67 624.36 269.40 623.00 C271.13 621.64 273.73 641.60 276.00 640.60 C278.27 639.60 281.08 618.77 283.00 617.00 C284.92 615.23 286.02 624.08 287.50 630.00 C288.98 635.92 290.23 645.42 291.90 652.50 C293.57 659.58 295.65 668.65 297.50 672.50 C299.35 676.35 301.54 674.35 303.00 675.60 C304.46 676.85 304.98 677.39 306.25 680.00 C307.52 682.61 309.04 691.46 310.60 691.25 C312.16 691.04 313.93 683.38 315.60 678.75 C317.27 674.12 318.87 664.38 320.60 663.50 C322.33 662.62 324.38 670.75 326.00 673.50 C327.62 676.25 329.01 676.42 330.30 680.00 C331.59 683.58 332.65 689.83 333.75 695.00 C334.85 700.17 335.96 706.83 336.90 711.00 C337.84 715.17 338.12 720.58 339.40 720.00 C340.68 719.42 343.17 708.54 344.60 707.50 C346.03 706.46 346.68 709.17 348.00 713.75 C349.32 718.33 350.60 728.46 352.50 735.00 C354.40 741.54 357.42 752.58 359.40 753.00 C361.38 753.42 362.84 741.67 364.40 737.50 C365.96 733.33 366.67 727.08 368.75 728.00 C370.83 728.92 374.61 743.08 376.90 743.00 C379.19 742.92 380.94 731.02 382.50 727.50 C384.06 723.98 384.90 722.73 386.25 721.90 C387.60 721.07 389.35 724.90 390.60 722.50 C391.85 720.10 392.77 711.25 393.75 707.50 C394.73 703.75 395.25 700.00 396.50 700.00 C397.75 700.00 399.62 702.92 401.25 707.50 C402.88 712.08 404.38 721.98 406.25 727.50 C408.12 733.02 410.54 739.77 412.50 740.60 C414.46 741.43 416.43 734.60 418.00 732.50 C419.57 730.40 420.32 726.75 421.90 728.00 C423.48 729.25 425.32 736.33 427.50 740.00 C429.68 743.67 433.02 748.02 435.00 750.00 C436.98 751.98 437.36 749.40 439.40 751.90 C441.44 754.40 445.17 765.73 447.25 765.00 C449.33 764.27 450.29 751.57 451.90 747.50 C453.51 743.43 454.92 740.28 456.90 740.60 C458.88 740.92 461.36 746.79 463.75 749.40 C466.14 752.01 469.17 754.82 471.25 756.25 C473.33 757.68 474.58 758.11 476.25 758.00 C477.92 757.89 479.69 754.64 481.25 755.60 C482.81 756.56 483.93 761.68 485.60 763.75 C487.27 765.82 489.18 768.31 491.25 768.00 C493.32 767.69 495.92 762.57 498.00 761.90 C500.08 761.23 501.85 765.98 503.75 764.00 C505.65 762.02 507.42 753.79 509.40 750.00 C511.38 746.21 514.04 745.62 515.60 741.25 C517.16 736.88 517.60 729.38 518.75 723.75 C519.90 718.12 521.14 711.14 522.50 707.50 C523.86 703.86 524.92 700.65 526.90 701.90 C528.88 703.15 532.63 714.90 534.40 715.00 C536.17 715.10 536.47 706.04 537.50 702.50 C538.53 698.96 539.14 694.50 540.60 693.75 C542.06 693.00 544.68 698.62 546.25 698.00 C547.82 697.38 548.64 692.79 550.00 690.00 C551.36 687.21 552.52 681.46 554.40 681.25 C556.27 681.04 559.07 686.25 561.25 688.75 C563.43 691.25 565.46 693.64 567.50 696.25 C569.54 698.86 571.83 705.44 573.50 704.40 C575.17 703.36 576.10 694.69 577.50 690.00 C578.90 685.31 580.44 679.33 581.90 676.25 C583.36 673.17 584.80 670.67 586.25 671.50 C587.70 672.33 589.14 678.27 590.60 681.25 C592.06 684.23 593.23 689.82 595.00 689.40 C596.77 688.98 599.21 681.98 601.25 678.75 C603.29 675.52 605.29 669.58 607.25 670.00 C609.21 670.42 611.21 681.67 613.00 681.25 C614.79 680.83 616.33 671.77 618.00 667.50 C619.67 663.23 621.21 658.42 623.00 655.60 C624.79 652.78 626.96 650.28 628.75 650.60 C630.54 650.92 632.29 654.89 633.75 657.50 C635.21 660.11 636.25 664.27 637.50 666.25 C638.75 668.23 639.90 669.51 641.25 669.40 C642.60 669.29 644.35 664.25 645.60 665.60 C646.85 666.95 647.52 673.77 648.75 677.50 C649.98 681.23 651.75 685.82 653.00 688.00 C654.25 690.18 654.92 691.00 656.25 690.60 C657.58 690.20 659.33 685.38 661.00 685.60 C662.67 685.82 664.43 690.43 666.25 691.90 C668.07 693.37 670.02 694.72 671.90 694.40 C673.77 694.08 675.83 692.65 677.50 690.00 C679.17 687.35 680.44 681.45 681.90 678.50 C683.36 675.55 684.40 672.67 686.25 672.30 C688.10 671.92 691.12 677.05 693.00 676.25 C694.88 675.45 695.96 670.42 697.50 667.50 C699.04 664.58 700.54 658.43 702.25 658.75 C703.96 659.07 706.04 668.98 707.75 669.40 C709.46 669.82 710.92 663.65 712.50 661.25 C714.08 658.85 715.79 654.38 717.25 655.00 C718.71 655.62 719.96 661.67 721.25 665.00 C722.54 668.33 723.64 672.71 725.00 675.00 C726.36 677.29 727.83 679.17 729.40 678.75 C730.97 678.33 732.88 674.69 734.40 672.50 C735.92 670.31 737.25 664.77 738.50 665.60 C739.75 666.43 740.40 673.43 741.90 677.50 C743.40 681.57 745.52 689.38 747.50 690.00 C749.48 690.62 752.04 683.54 753.75 681.25 C755.46 678.96 756.21 675.96 757.75 676.25 C759.29 676.54 761.38 683.21 763.00 683.00 C764.62 682.79 765.92 677.58 767.50 675.00 C769.08 672.42 771.00 668.50 772.50 667.50 C774.00 666.50 774.83 669.62 776.50 669.00 C778.17 668.38 780.67 667.12 782.50 663.75 C784.33 660.38 785.93 652.61 787.50 648.75 C789.07 644.89 790.27 640.60 791.90 640.60 C793.52 640.60 795.69 649.06 797.25 648.75 C798.81 648.44 799.96 641.98 801.25 638.75 C802.54 635.52 803.44 629.19 805.00 629.40 C806.56 629.61 808.73 639.90 810.60 640.00 C812.48 640.10 814.43 634.07 816.25 630.00 C818.07 625.93 819.83 615.81 821.50 615.60 C823.17 615.39 824.83 624.27 826.25 628.75 C827.67 633.23 828.79 638.12 830.00 642.50 C831.21 646.88 832.25 654.79 833.50 655.00 C834.75 655.21 836.04 647.04 837.50 643.75 C838.96 640.46 841.46 636.67 842.25 635.25" stroke="#3fa2b4" stroke-width="4.7"/>
<path d="M115.80 495.00 C116.27 500.00 117.65 516.57 118.60 525.00 C119.55 533.43 120.52 546.43 121.50 545.60 C122.48 544.77 123.50 529.60 124.50 520.00 C125.50 510.40 126.58 499.04 127.50 488.00 C128.42 476.96 129.15 458.25 130.00 453.75 C130.85 449.25 131.67 458.62 132.60 461.00 C133.53 463.38 134.16 470.50 135.60 468.00 C137.04 465.50 139.17 455.88 141.25 446.00 C143.33 436.12 145.81 409.75 148.10 408.75 C150.39 407.75 152.81 429.58 155.00 440.00 C157.19 450.42 159.38 468.12 161.25 471.25 C163.12 474.38 164.79 457.71 166.25 458.75 C167.71 459.79 168.39 470.12 170.00 477.50 C171.61 484.88 173.92 501.25 175.90 503.00 C177.88 504.75 180.18 487.17 181.90 488.00 C183.62 488.83 184.90 499.33 186.25 508.00 C187.60 516.67 188.54 532.83 190.00 540.00 C191.46 547.17 193.33 545.38 195.00 551.00 C196.67 556.62 198.28 565.42 200.00 573.75 C201.72 582.08 203.80 599.79 205.30 601.00 C206.80 602.21 207.72 582.00 209.00 581.00 C210.28 580.00 211.68 587.25 213.00 595.00 C214.32 602.75 215.53 618.12 216.90 627.50 C218.28 636.88 219.73 643.85 221.25 651.25 C222.77 658.65 224.54 672.32 226.00 671.90 C227.46 671.48 228.60 656.36 230.00 648.75 C231.40 641.14 233.07 628.12 234.40 626.25 C235.73 624.38 236.75 632.71 238.00 637.50 C239.25 642.29 240.94 651.58 241.90 655.00 C242.86 658.42 242.82 658.00 243.75 658.00 C244.68 658.00 246.46 653.42 247.50 655.00 C248.54 656.58 248.65 660.62 250.00 667.50 C251.35 674.38 253.62 694.58 255.60 696.25 C257.58 697.92 260.23 685.42 261.90 677.50 C263.57 669.58 264.35 657.83 265.60 648.75 C266.85 639.67 267.67 624.36 269.40 623.00 C271.13 621.64 273.73 641.60 276.00 640.60 C278.27 639.60 281.08 618.77 283.00 617.00 C284.92 615.23 286.02 624.08 287.50 630.00 C288.98 635.92 290.23 645.42 291.90 652.50 C293.57 659.58 295.65 668.65 297.50 672.50 C299.35 676.35 301.54 674.35 303.00 675.60 C304.46 676.85 304.98 677.39 306.25 680.00 C307.52 682.61 309.04 691.46 310.60 691.25 C312.16 691.04 313.93 683.38 315.60 678.75 C317.27 674.12 318.87 664.38 320.60 663.50 C322.33 662.62 324.38 670.75 326.00 673.50 C327.62 676.25 329.01 676.42 330.30 680.00 C331.59 683.58 332.65 689.83 333.75 695.00 C334.85 700.17 335.96 706.83 336.90 711.00 C337.84 715.17 338.12 720.58 339.40 720.00 C340.68 719.42 343.17 708.54 344.60 707.50 C346.03 706.46 346.68 709.17 348.00 713.75 C349.32 718.33 350.60 728.46 352.50 735.00 C354.40 741.54 357.42 752.58 359.40 753.00 C361.38 753.42 362.84 741.67 364.40 737.50 C365.96 733.33 366.67 727.08 368.75 728.00 C370.83 728.92 374.61 743.08 376.90 743.00 C379.19 742.92 380.94 731.02 382.50 727.50 C384.06 723.98 384.90 722.73 386.25 721.90 C387.60 721.07 389.35 724.90 390.60 722.50 C391.85 720.10 392.77 711.25 393.75 707.50 C394.73 703.75 395.25 700.00 396.50 700.00 C397.75 700.00 399.62 702.92 401.25 707.50 C402.88 712.08 404.38 721.98 406.25 727.50 C408.12 733.02 410.54 739.77 412.50 740.60 C414.46 741.43 416.43 734.60 418.00 732.50 C419.57 730.40 420.32 726.75 421.90 728.00 C423.48 729.25 425.32 736.33 427.50 740.00 C429.68 743.67 433.02 748.02 435.00 750.00 C436.98 751.98 437.36 749.40 439.40 751.90 C441.44 754.40 445.17 765.73 447.25 765.00 C449.33 764.27 450.29 751.57 451.90 747.50 C453.51 743.43 454.92 740.28 456.90 740.60 C458.88 740.92 461.36 746.79 463.75 749.40 C466.14 752.01 469.17 754.82 471.25 756.25 C473.33 757.68 474.58 758.11 476.25 758.00 C477.92 757.89 479.69 754.64 481.25 755.60 C482.81 756.56 483.93 761.68 485.60 763.75 C487.27 765.82 489.18 768.31 491.25 768.00 C493.32 767.69 495.92 762.57 498.00 761.90 C500.08 761.23 501.85 765.98 503.75 764.00 C505.65 762.02 507.42 753.79 509.40 750.00 C511.38 746.21 514.04 745.62 515.60 741.25 C517.16 736.88 517.60 729.38 518.75 723.75 C519.90 718.12 521.14 711.14 522.50 707.50 C523.86 703.86 524.92 700.65 526.90 701.90 C528.88 703.15 532.63 714.90 534.40 715.00 C536.17 715.10 536.47 706.04 537.50 702.50 C538.53 698.96 539.14 694.50 540.60 693.75 C542.06 693.00 544.68 698.62 546.25 698.00 C547.82 697.38 548.64 692.79 550.00 690.00 C551.36 687.21 552.52 681.46 554.40 681.25 C556.27 681.04 559.07 686.25 561.25 688.75 C563.43 691.25 565.46 693.64 567.50 696.25 C569.54 698.86 571.83 705.44 573.50 704.40 C575.17 703.36 576.10 694.69 577.50 690.00 C578.90 685.31 580.44 679.33 581.90 676.25 C583.36 673.17 584.80 670.67 586.25 671.50 C587.70 672.33 589.14 678.27 590.60 681.25 C592.06 684.23 593.23 689.82 595.00 689.40 C596.77 688.98 599.21 681.98 601.25 678.75 C603.29 675.52 605.29 669.58 607.25 670.00 C609.21 670.42 611.21 681.67 613.00 681.25 C614.79 680.83 616.33 671.77 618.00 667.50 C619.67 663.23 621.21 658.42 623.00 655.60 C624.79 652.78 626.96 650.28 628.75 650.60 C630.54 650.92 632.29 654.89 633.75 657.50 C635.21 660.11 636.25 664.27 637.50 666.25 C638.75 668.23 639.90 669.51 641.25 669.40 C642.60 669.29 644.35 664.25 645.60 665.60 C646.85 666.95 647.52 673.77 648.75 677.50 C649.98 681.23 651.75 685.82 653.00 688.00 C654.25 690.18 654.92 691.00 656.25 690.60 C657.58 690.20 659.33 685.38 661.00 685.60 C662.67 685.82 664.43 690.43 666.25 691.90 C668.07 693.37 670.02 694.72 671.90 694.40 C673.77 694.08 675.83 692.65 677.50 690.00 C679.17 687.35 680.44 681.45 681.90 678.50 C683.36 675.55 684.40 672.67 686.25 672.30 C688.10 671.92 691.12 677.05 693.00 676.25 C694.88 675.45 695.96 670.42 697.50 667.50 C699.04 664.58 700.54 658.43 702.25 658.75 C703.96 659.07 706.04 668.98 707.75 669.40 C709.46 669.82 710.92 663.65 712.50 661.25 C714.08 658.85 715.79 654.38 717.25 655.00 C718.71 655.62 719.96 661.67 721.25 665.00 C722.54 668.33 723.64 672.71 725.00 675.00 C726.36 677.29 727.83 679.17 729.40 678.75 C730.97 678.33 732.88 674.69 734.40 672.50 C735.92 670.31 737.25 664.77 738.50 665.60 C739.75 666.43 740.40 673.43 741.90 677.50 C743.40 681.57 745.52 689.38 747.50 690.00 C749.48 690.62 752.04 683.54 753.75 681.25 C755.46 678.96 756.21 675.96 757.75 676.25 C759.29 676.54 761.38 683.21 763.00 683.00 C764.62 682.79 765.92 677.58 767.50 675.00 C769.08 672.42 771.00 668.50 772.50 667.50 C774.00 666.50 774.83 669.62 776.50 669.00 C778.17 668.38 780.67 667.12 782.50 663.75 C784.33 660.38 785.93 652.61 787.50 648.75 C789.07 644.89 790.27 640.60 791.90 640.60 C793.52 640.60 795.69 649.06 797.25 648.75 C798.81 648.44 799.96 641.98 801.25 638.75 C802.54 635.52 803.44 629.19 805.00 629.40 C806.56 629.61 808.73 639.90 810.60 640.00 C812.48 640.10 814.43 634.07 816.25 630.00 C818.07 625.93 819.83 615.81 821.50 615.60 C823.17 615.39 824.83 624.27 826.25 628.75 C827.67 633.23 828.79 638.12 830.00 642.50 C831.21 646.88 832.25 654.79 833.50 655.00 C834.75 655.21 836.04 647.04 837.50 643.75 C838.96 640.46 841.46 636.67 842.25 635.25" stroke="#8adfe9" stroke-width="2.3"/>
</g>
<path d="M845.26 645.80 L856.74 641.70 M866.26 638.30 L877.74 634.20 M887.36 631.07 L898.64 626.43 M908.99 621.37 L920.01 616.13 M929.53 611.45 L940.47 606.05 M949.58 601.56 L960.42 595.94 M970.65 590.43 L981.35 584.57 M990.70 579.27 L1001.30 573.23 M1010.25 568.11 L1020.75 561.89 M1028.82 556.97 L1039.18 550.53 M1047.37 545.30 L1057.63 538.70 M1065.92 533.38 L1076.08 526.62 M1084.98 520.47 L1095.02 513.53 M1104.07 507.35 L1113.93 500.15 M1122.20 493.77 L1131.80 486.23 M1140.28 479.37 L1149.72 471.63 M1158.33 464.43 L1167.67 456.57 M1176.61 448.96 L1185.89 441.04 M1194.12 433.97 L1203.38 426.03 M1211.62 418.97 L1220.88 411.03 M1229.09 403.93 L1238.41 396.07 M1246.62 389.47 L1255.88 381.53 M1264.15 374.01 L1273.35 365.99 M1281.62 358.97 L1290.88 351.03 M1299.19 344.06 L1308.31 335.94 M1316.02 328.64 L1324.98 320.36 M1333.00 312.86 L1342.00 304.64 M1350.52 297.14 L1359.48 288.86 M1366.80 281.67 L1375.70 273.33 M1383.05 266.67 L1391.95 258.33 M1399.34 251.21 L1408.16 242.79 M1414.0 236.6 L1416.6 233.8" fill="none" stroke="#03101c" stroke-width="5.6" stroke-linecap="square" opacity="0.3"/>
<path d="M845.26 645.80 L856.74 641.70 M866.26 638.30 L877.74 634.20 M887.36 631.07 L898.64 626.43 M908.99 621.37 L920.01 616.13 M929.53 611.45 L940.47 606.05 M949.58 601.56 L960.42 595.94 M970.65 590.43 L981.35 584.57 M990.70 579.27 L1001.30 573.23 M1010.25 568.11 L1020.75 561.89 M1028.82 556.97 L1039.18 550.53 M1047.37 545.30 L1057.63 538.70 M1065.92 533.38 L1076.08 526.62 M1084.98 520.47 L1095.02 513.53 M1104.07 507.35 L1113.93 500.15 M1122.20 493.77 L1131.80 486.23 M1140.28 479.37 L1149.72 471.63 M1158.33 464.43 L1167.67 456.57 M1176.61 448.96 L1185.89 441.04 M1194.12 433.97 L1203.38 426.03 M1211.62 418.97 L1220.88 411.03 M1229.09 403.93 L1238.41 396.07 M1246.62 389.47 L1255.88 381.53 M1264.15 374.01 L1273.35 365.99 M1281.62 358.97 L1290.88 351.03 M1299.19 344.06 L1308.31 335.94 M1316.02 328.64 L1324.98 320.36 M1333.00 312.86 L1342.00 304.64 M1350.52 297.14 L1359.48 288.86 M1366.80 281.67 L1375.70 273.33 M1383.05 266.67 L1391.95 258.33 M1399.34 251.21 L1408.16 242.79 M1414.0 236.6 L1416.6 233.8" fill="none" stroke="#e2f4f9" stroke-width="3.9" stroke-linecap="butt"/>
<!-- PLISIO logo -->
<g id="logo">
<path fill="none" stroke="#ffffff" stroke-width="13.7" d="M1263.15 759.3 V749 A17.2 17.2 0 0 1 1280.35 731.8 H1313.15 A17.2 17.2 0 0 1 1330.35 749 V759.3"/>
<path fill="none" stroke="#ffffff" stroke-width="13.7" d="M1263.15 833.2 V844.2 A17.2 17.2 0 0 0 1280.35 861.4 H1313.15 A17.2 17.2 0 0 0 1330.35 844.2 V833.2"/>
<rect x="1256.3" y="770.8" width="13.7" height="51" fill="#fff"/>
<rect x="1323.5" y="770.8" width="13.7" height="51" fill="#fff"/>
<!-- P -->
<path fill="#fff" fill-rule="evenodd" d="M1169.7 770.8 H1193.5 C1205.5 770.8 1212.6 777.6 1212.6 787.9 C1212.6 798.4 1205 805 1193 805 H1183.4 V821.8 H1169.7 Z M1183.4 782.6 V793.3 H1192.2 C1196.6 793.3 1198.9 791.2 1198.9 787.9 C1198.9 784.6 1196.6 782.6 1192.2 782.6 Z"/>
<!-- L -->
<path fill="#fff" d="M1217.7 770.8 H1231.6 V809.6 H1252 V821.8 H1217.7 Z"/>
<!-- S -->
<path fill="none" stroke="#fff" stroke-width="12.6" d="M1314.4 782 C1309 778.2 1303 776.6 1297 776.6 C1289 776.6 1282.6 780.2 1282.6 786 C1282.6 792.2 1289 794.6 1297 796.5 C1306 798.6 1312.4 800.6 1312.4 806.8 C1312.4 812.9 1305.6 816.7 1297 816.7 C1289.4 816.7 1283 814 1278.2 809.6"/>
<!-- O -->
<ellipse cx="1368.9" cy="796.2" rx="20.3" ry="19.5" fill="none" stroke="#fff" stroke-width="14"/>
</g>
</svg>
</body></html>
